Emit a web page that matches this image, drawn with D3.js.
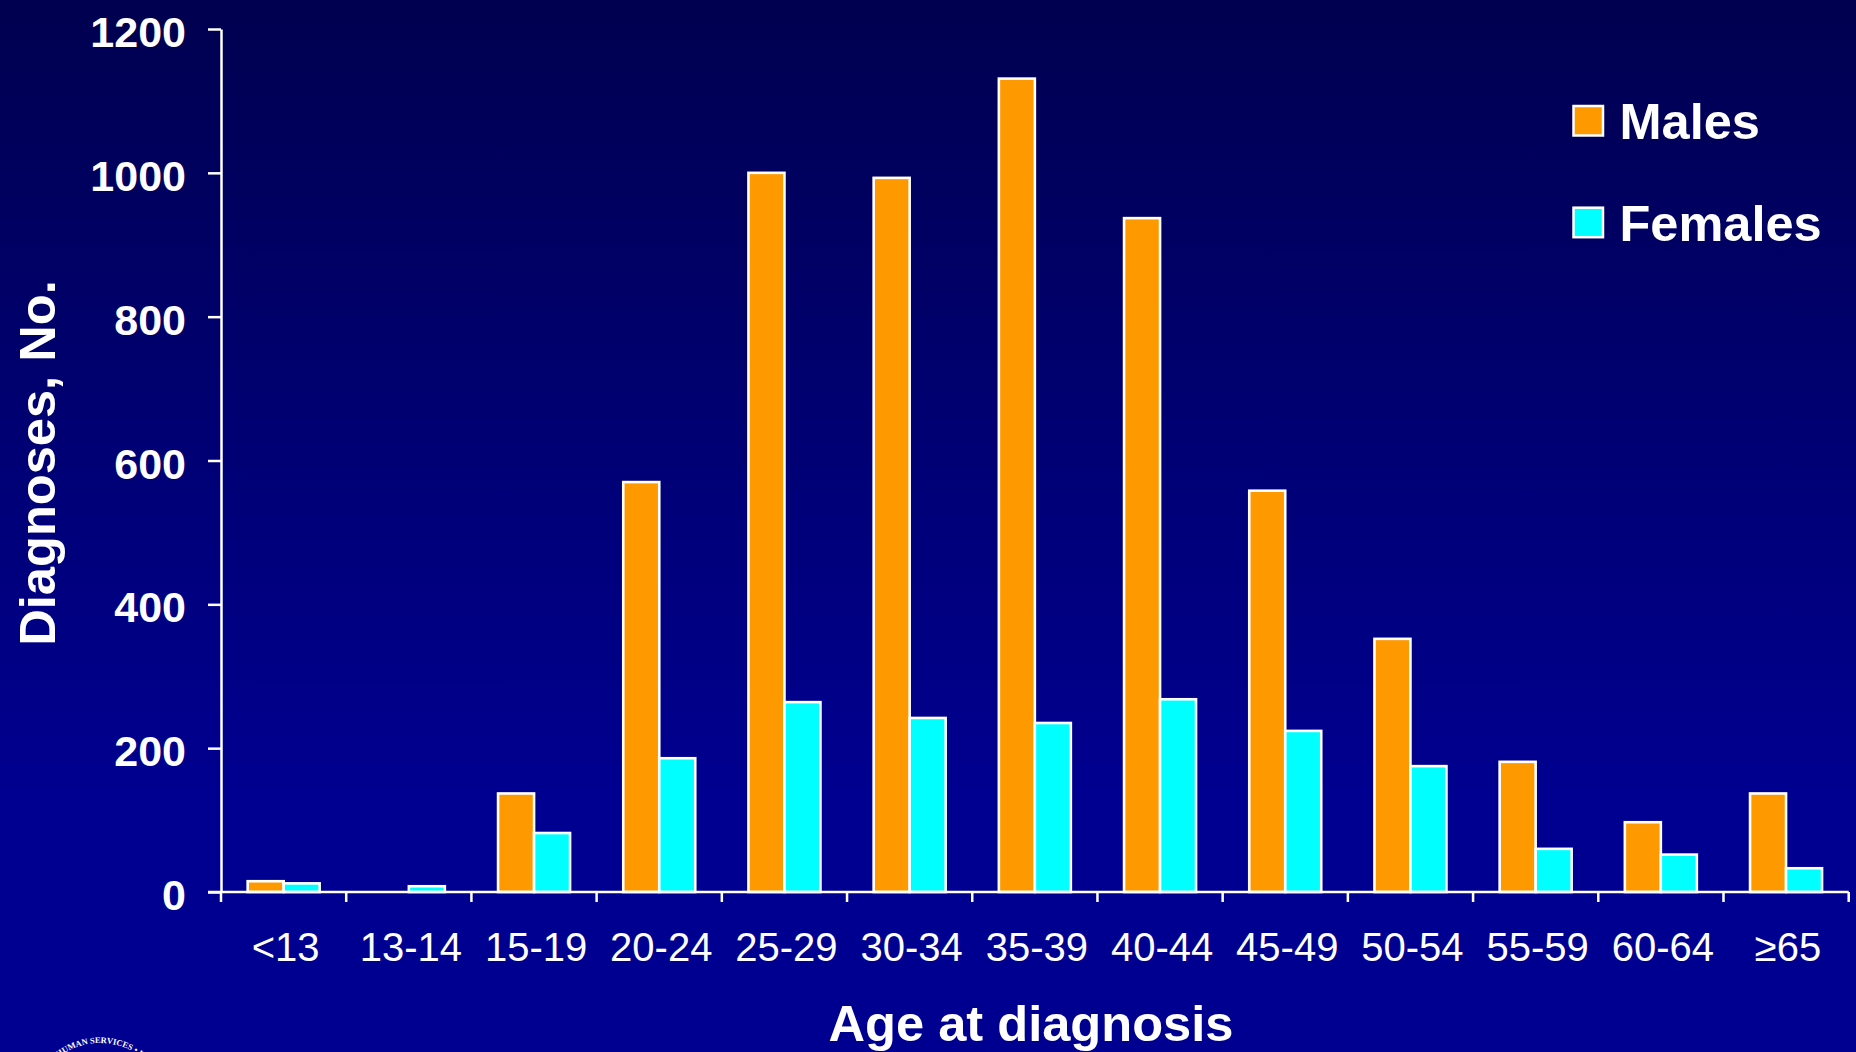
<!DOCTYPE html>
<html>
<head>
<meta charset="utf-8">
<script src="https://cdn.jsdelivr.net/npm/d3@7"></script>
<style>
  html, body { margin: 0; padding: 0; background: #000090; overflow: hidden; }
  text { font-family: "Liberation Sans", Arial, sans-serif; fill: #fff; }
</style>
</head>
<body>
<div id="chart"></div>
<script>
// Data
const ageGroups = ["<13", "13-14", "15-19", "20-24", "25-29", "30-34", "35-39", "40-44", "45-49", "50-54", "55-59", "60-64", "≥65"];
const males = [15, 0, 137, 570, 1000, 993, 1131, 937, 558, 352, 181, 97, 137];
const females = [12, 8, 82, 186, 264, 242, 235, 268, 224, 175, 60, 52, 33];
const yTicks = [0, 200, 400, 600, 800, 1000, 1200];
const seriesNames = ["Males", "Females"];
const seriesColors = ["#ff9900", "#00ffff"];

const W = 1856, H = 1052;
const plot = { left: 221, right: 1848.7, top: 29, bottom: 892 };

const svg = d3.select("#chart").append("svg")
    .attr("width", W)
    .attr("height", H)
    .style("display", "block");

// Background gradient
const grad = svg.append("defs").append("linearGradient")
    .attr("id", "bg")
    .attr("x1", 0).attr("y1", 0).attr("x2", 0).attr("y2", 1);
grad.append("stop").attr("offset", 0).attr("stop-color", "#000050");
grad.append("stop").attr("offset", 0.75).attr("stop-color", "#000090");
svg.append("rect").attr("width", W).attr("height", H).attr("fill", "url(#bg)");

// Scales
const x = d3.scaleBand().domain(ageGroups)
    .range([plot.left, plot.right])
    .paddingInner(0.425).paddingOuter(0.213);
const xInner = d3.scaleBand().domain(seriesNames).range([0, x.bandwidth()]);
const y = d3.scaleLinear().domain([0, 1200]).range([plot.bottom, plot.top]);

// Bars
const series = [males, females];
seriesNames.forEach((name, s) => {
    svg.append("g")
        .selectAll("rect")
        .data(series[s])
        .join("rect")
        .attr("x", (d, i) => x(ageGroups[i]) + xInner(name))
        .attr("y", d => y(d))
        .attr("width", xInner.bandwidth())
        .attr("height", d => y(0) - y(d))
        .attr("fill", seriesColors[s])
        .attr("stroke", "#fff")
        .attr("stroke-width", 2.6)
        .attr("display", d => d > 0 ? null : "none");
});

// Y axis
const yAxis = svg.append("g")
    .attr("transform", `translate(${plot.left},0)`)
    .call(d3.axisLeft(y).tickValues(yTicks).tickFormat(d3.format("d")).tickSize(13).tickSizeOuter(0).tickPadding(22));
yAxis.selectAll("text")
    .attr("font-size", 43)
    .attr("font-weight", "bold")
    .attr("dy", "0.41em")
    .style("font-family", '"Liberation Sans", Arial, sans-serif');

// X axis, ticks sit between the groups
const xEdges = d3.scaleLinear().domain([0, ageGroups.length]).range([plot.left, plot.right]);
const xAxis = svg.append("g")
    .attr("transform", `translate(0,${plot.bottom})`);
xAxis.append("line")
    .attr("x1", plot.left - 13).attr("x2", plot.right)
    .attr("stroke", "#fff").attr("stroke-width", 2.5);
xAxis.selectAll("line.tick")
    .data(d3.range(ageGroups.length + 1))
    .join("line")
    .attr("class", "tick")
    .attr("x1", d => xEdges(d)).attr("x2", d => xEdges(d))
    .attr("y1", 0).attr("y2", 10)
    .attr("stroke", "#fff").attr("stroke-width", 2.5);
xAxis.selectAll("text")
    .data(ageGroups)
    .join("text")
    .attr("x", d => x(d) + x.bandwidth() / 2 + 2)
    .attr("y", 69)
    .attr("text-anchor", "middle")
    .attr("font-size", 40)
    .text(d => d);

yAxis.selectAll(".domain, .tick line")
    .attr("stroke", "#fff")
    .attr("stroke-width", 2.5);
yAxis.selectAll(".tick text").style("fill", "#fff");

// Axis titles
svg.append("text")
    .attr("x", 1031).attr("y", 1041)
    .attr("text-anchor", "middle")
    .attr("font-size", 50.6).attr("font-weight", "bold")
    .text("Age at diagnosis");
svg.append("text")
    .attr("transform", "translate(55,463) rotate(-90)")
    .attr("text-anchor", "middle")
    .attr("font-size", 50.6).attr("font-weight", "bold")
    .text("Diagnoses, No.");

// Legend
const legend = svg.append("g").selectAll("g")
    .data(seriesNames)
    .join("g")
    .attr("transform", (d, i) => `translate(1573.5,${106 + i * 101.7})`);
legend.append("rect")
    .attr("width", 29.5).attr("height", 29.5)
    .attr("fill", (d, i) => seriesColors[i])
    .attr("stroke", "#fff").attr("stroke-width", 2.5);
legend.append("text")
    .attr("x", 46).attr("y", 33.3)
    .attr("font-size", 50.5).attr("font-weight", "bold")
    .text(d => d);

// Top of the department seal, cut off by the slide edge
const sealArc = d3.path();
sealArc.arc(100, 1111, 68, -Math.PI, 0);
svg.select("defs").append("path").attr("id", "sealArc").attr("d", sealArc.toString());
svg.append("text")
    .style("font-family", '"Liberation Serif", serif')
    .attr("font-size", 8.5)
    .attr("font-weight", "bold")
    .append("textPath")
    .attr("href", "#sealArc")
    .attr("startOffset", 61.7)
    .text("HUMAN SERVICES • USA");
</script>
</body>
</html>
